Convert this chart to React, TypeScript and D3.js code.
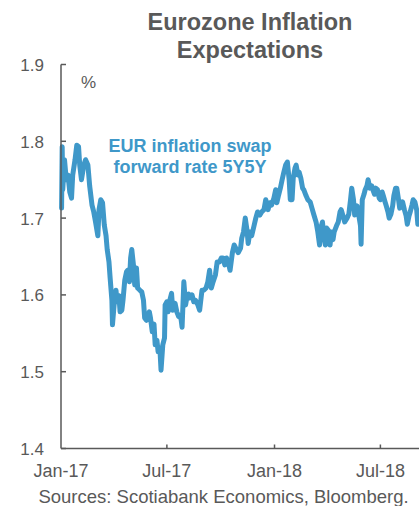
import React from 'react';
import * as d3 from 'd3';

// --- Data ---
const dates = [
  '2017-01-02','2017-01-03','2017-01-04','2017-01-07','2017-01-10','2017-01-13','2017-01-16','2017-01-19','2017-01-21','2017-01-25',
  '2017-01-28','2017-01-31','2017-02-02','2017-02-05','2017-02-09','2017-02-12','2017-02-16','2017-02-19','2017-02-23','2017-02-26',
  '2017-03-01','2017-03-05','2017-03-07','2017-03-10','2017-03-13','2017-03-16','2017-03-19','2017-03-21','2017-03-24','2017-03-26',
  '2017-03-29','2017-03-30','2017-04-02','2017-04-05','2017-04-07','2017-04-10','2017-04-12','2017-04-15','2017-04-17','2017-04-20',
  '2017-04-23','2017-04-25','2017-04-28','2017-04-30','2017-05-02','2017-05-05','2017-05-07','2017-05-10','2017-05-12','2017-05-16',
  '2017-05-19','2017-05-22','2017-05-24','2017-05-27','2017-05-29','2017-06-01','2017-06-03','2017-06-06','2017-06-09','2017-06-11',
  '2017-06-14','2017-06-16','2017-06-19','2017-06-21','2017-06-24','2017-06-27','2017-06-28','2017-07-01','2017-07-03','2017-07-06',
  '2017-07-09','2017-07-11','2017-07-15','2017-07-18','2017-07-21','2017-07-25','2017-07-27','2017-07-30','2017-08-02','2017-08-04',
  '2017-08-07','2017-08-09','2017-08-13','2017-08-16','2017-08-19','2017-08-23','2017-08-26','2017-08-30','2017-09-02','2017-09-06',
  '2017-09-09','2017-09-12','2017-09-15','2017-09-18','2017-09-22','2017-09-25','2017-09-29','2017-10-02','2017-10-05','2017-10-08',
  '2017-10-11','2017-10-15','2017-10-17','2017-10-21','2017-10-24','2017-10-28','2017-10-31','2017-11-04','2017-11-06','2017-11-09',
  '2017-11-12','2017-11-15','2017-11-17','2017-11-20','2017-11-23','2017-11-27','2017-11-30','2017-12-03','2017-12-07','2017-12-10',
  '2017-12-14','2017-12-17','2017-12-21','2017-12-24','2017-12-27','2017-12-31','2018-01-03','2018-01-05','2018-01-08','2018-01-11',
  '2018-01-14','2018-01-17','2018-01-20','2018-01-23','2018-01-26','2018-01-28','2018-01-31','2018-02-02','2018-02-05','2018-02-07',
  '2018-02-10','2018-02-12','2018-02-15','2018-02-18','2018-02-20','2018-02-24','2018-02-27','2018-03-03','2018-03-06','2018-03-09',
  '2018-03-13','2018-03-16','2018-03-19','2018-03-21','2018-03-24','2018-03-26','2018-03-29','2018-03-31','2018-04-03','2018-04-06',
  '2018-04-08','2018-04-11','2018-04-13','2018-04-17','2018-04-20','2018-04-23','2018-04-25','2018-04-28','2018-05-01','2018-05-05',
  '2018-05-08','2018-05-11','2018-05-13','2018-05-16','2018-05-18','2018-05-22','2018-05-25','2018-05-28','2018-05-29','2018-05-31',
  '2018-06-03','2018-06-05','2018-06-08','2018-06-10','2018-06-13','2018-06-16','2018-06-18','2018-06-21','2018-06-23','2018-06-26',
  '2018-06-29','2018-07-01','2018-07-04','2018-07-06','2018-07-09','2018-07-11','2018-07-14','2018-07-16','2018-07-19','2018-07-22',
  '2018-07-24','2018-07-27','2018-07-29','2018-08-01','2018-08-03','2018-08-06','2018-08-08','2018-08-11','2018-08-14','2018-08-16',
  '2018-08-19','2018-08-21','2018-08-24','2018-08-26','2018-08-29','2018-09-01','2018-09-03','2018-09-07',
];

const swap5y5y = [
  1.713,1.793,1.737,1.776,1.750,1.756,1.734,1.726,1.756,1.776,
  1.795,1.793,1.769,1.750,1.769,1.776,1.769,1.742,1.717,1.708,
  1.695,1.677,1.711,1.724,1.720,1.691,1.677,1.659,1.643,1.622,
  1.593,1.561,1.589,1.606,1.591,1.599,1.578,1.580,1.593,1.619,
  1.630,1.632,1.617,1.648,1.659,1.638,1.613,1.635,1.609,1.606,
  1.604,1.593,1.570,1.567,1.570,1.578,1.570,1.552,1.562,1.535,
  1.541,1.526,1.531,1.502,1.535,1.544,1.587,1.591,1.578,1.593,
  1.602,1.580,1.589,1.578,1.572,1.570,1.558,1.617,1.587,1.596,
  1.601,1.596,1.600,1.591,1.593,1.587,1.580,1.606,1.606,1.609,
  1.617,1.632,1.609,1.617,1.626,1.643,1.643,1.648,1.648,1.639,
  1.648,1.639,1.632,1.655,1.665,1.659,1.655,1.661,1.674,1.682,
  1.700,1.684,1.667,1.682,1.677,1.690,1.700,1.708,1.704,1.708,
  1.711,1.724,1.711,1.720,1.717,1.726,1.737,1.720,1.730,1.739,
  1.750,1.760,1.769,1.773,1.750,1.724,1.724,1.752,1.765,1.769,
  1.756,1.760,1.752,1.739,1.737,1.729,1.724,1.721,1.713,1.705,
  1.695,1.682,1.665,1.687,1.695,1.678,1.665,1.687,1.684,1.665,
  1.682,1.672,1.682,1.690,1.695,1.708,1.711,1.703,1.695,1.700,
  1.705,1.724,1.739,1.724,1.704,1.716,1.704,1.690,1.666,1.724,
  1.731,1.737,1.742,1.750,1.739,1.742,1.737,1.731,1.739,1.737,
  1.726,1.724,1.734,1.729,1.721,1.716,1.708,1.700,1.705,1.716,
  1.729,1.739,1.739,1.724,1.713,1.718,1.721,1.711,1.703,1.692,
  1.703,1.708,1.717,1.724,1.721,1.711,1.692,1.700,
];

const yTicks = [1.4, 1.5, 1.6, 1.7, 1.8, 1.9];
const xTickDates = ['2017-01-01', '2017-07-01', '2018-01-01', '2018-07-01'];
const xTickLabels = ['Jan-17', 'Jul-17', 'Jan-18', 'Jul-18'];

const titleLines = ['Eurozone Inflation', 'Expectations'];
const seriesLabel = ['EUR inflation swap', 'forward rate 5Y5Y'];
const sourceText = 'Sources: Scotiabank Economics, Bloomberg.';

const WIDTH = 419;
const HEIGHT = 506;
const FONT = '"Liberation Sans", Arial, sans-serif';
const GREY = '#595959';
const BLUE = '#3f98c9';

const parse = d3.timeParse('%Y-%m-%d');

export default function App() {
  const margin = { top: 64.5, right: 0, bottom: 57.5, left: 61 };
  const plotBottom = HEIGHT - margin.bottom;

  const x = d3.scaleTime()
    .domain([parse('2017-01-01'), parse('2018-09-05')])
    .range([margin.left, WIDTH - margin.right]);

  const y = d3.scaleLinear()
    .domain([1.4, 1.9])
    .range([plotBottom, margin.top]);

  const points = dates.map((d, i) => ({ date: parse(d), value: swap5y5y[i] }));

  const line = d3.line<{ date: Date; value: number }>()
    .x(d => x(d.date))
    .y(d => y(d.value));

  return (
    <div style={{ position: 'fixed', left: 0, top: 0 }}>
      <svg width={WIDTH} height={HEIGHT} style={{ display: 'block', background: '#fff' }} fontFamily={FONT}>
        {/* title */}
        {titleLines.map((t, i) => (
          <text key={t} x={250} y={30 + i * 28} textAnchor="middle" fontSize={23.5} fontWeight="bold" fill={GREY}>{t}</text>
        ))}

        {/* line */}
        <path d={line(points) || ''} fill="none" stroke={BLUE} strokeWidth={5}
          strokeLinejoin="round" strokeLinecap="round" />

        {/* y axis */}
        <line x1={margin.left} x2={margin.left} y1={y(1.9)} y2={plotBottom} stroke={GREY} strokeWidth={1.5} />
        {yTicks.map(t => (
          <g key={t}>
            <line x1={margin.left} x2={margin.left + 5} y1={y(t)} y2={y(t)} stroke={GREY} strokeWidth={1.5} />
            <text x={44} y={y(t) + 6.5} textAnchor="end" fontSize={17} fill={GREY}>{t.toFixed(1)}</text>
          </g>
        ))}
        <text x={81} y={88} fontSize={17} fill={GREY}>%</text>

        {/* x axis */}
        <line x1={margin.left} x2={WIDTH} y1={plotBottom} y2={plotBottom} stroke={GREY} strokeWidth={1.5} />
        {xTickDates.map((d, i) => (
          <g key={d}>
            {i > 0 && (
              <line x1={x(parse(d))} x2={x(parse(d))} y1={plotBottom} y2={plotBottom - 4} stroke={GREY} strokeWidth={1.5} />
            )}
            <text x={x(parse(d))} y={476.5} textAnchor="middle" fontSize={18} fill={GREY}>{xTickLabels[i]}</text>
          </g>
        ))}

        {/* series label */}
        {seriesLabel.map((t, i) => (
          <text key={t} x={190} y={151.5 + i * 21} textAnchor="middle" fontSize={18} fontWeight="bold" fill={BLUE}>{t}</text>
        ))}

        {/* source */}
        <text x={223.5} y={503} textAnchor="middle" fontSize={18.5} fill={GREY}>{sourceText}</text>
      </svg>
    </div>
  );
}
